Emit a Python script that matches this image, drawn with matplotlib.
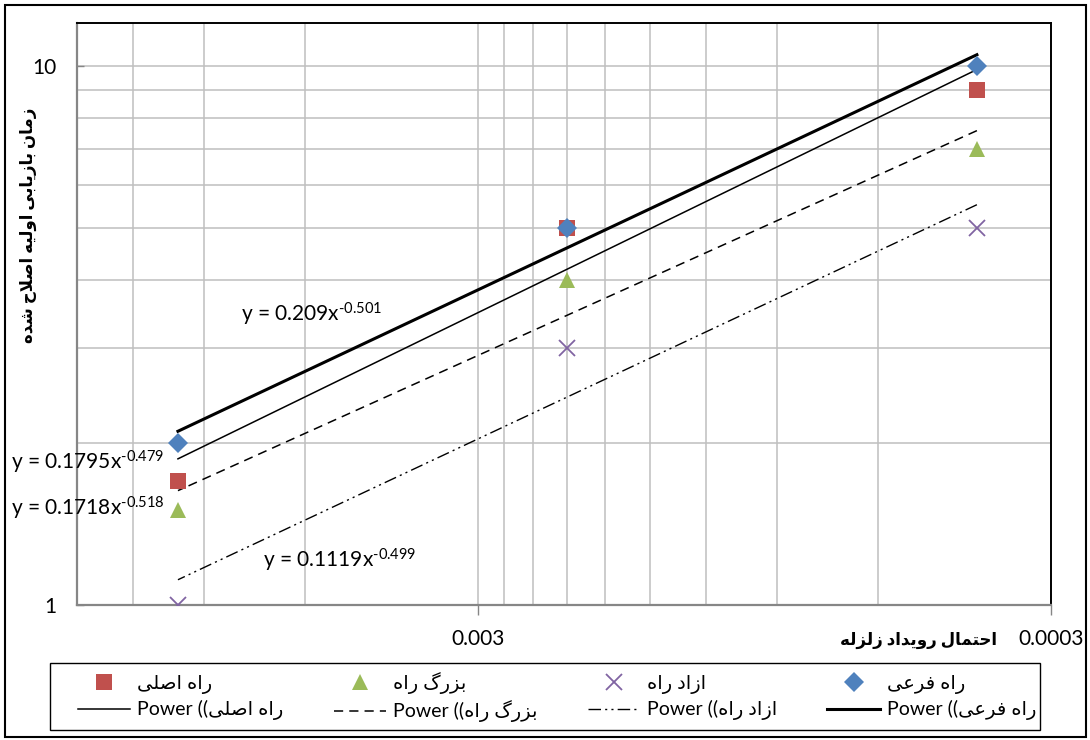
'''
Log-log plot of recovery time vs earthquake probability
'''

# Imports
import numpy as np
import matplotlib
matplotlib.use('Agg')
import matplotlib.pyplot as plt
from matplotlib.patches import Rectangle

plt.rcParams['font.family'] = ['Lato', 'DejaVu Sans']
plt.rcParams['mathtext.fontset'] = 'custom'
plt.rcParams['mathtext.rm'] = 'Lato'
plt.rcParams['mathtext.default'] = 'regular'

# Data
prob = [0.01, 0.0021, 0.000404]
series_names = ['راه اصلی', 'بزرگ راه', 'ازاد راه', 'راه فرعی']
recovery = [
    [1.7, 5.0, 9.0],   # راه اصلی
    [1.5, 4.0, 7.0],   # بزرگ راه
    [1.0, 3.0, 5.0],   # ازاد راه
    [2.0, 5.0, 10.0],  # راه فرعی
]
fit_a = [0.1718, 0.1795, 0.1119, 0.209]
fit_b = [-0.518, -0.479, -0.499, -0.501]
fit_labels = [r'y = 0.1718x$^{\text{-0.518}}$', r'y = 0.1795x$^{\text{-0.479}}$',
              r'y = 0.1119x$^{\text{-0.499}}$', r'y = 0.209x$^{\text{-0.501}}$']
y_title = 'زمان بازیابی اولیه اصلاح شده'
x_title = 'احتمال رویداد زلزله'

# Styles
colors = ['#C0504D', '#9BBB59', '#8064A2', '#4F81BD']
markers = ['s', '^', 'x', 'D']
msizes = [11, 12, 11, 10]
line_styles = ['-', (0, (6, 4)), (0, (9, 3, 1.5, 3, 1.5, 3)), '-']
line_widths = [1.1, 1.1, 1.0, 2.2]
# label positions (figure px): left, baseline
fit_pos = [(11, 515), (11, 470), (263, 568), (241, 322)]

# Arabic shaping (matplotlib has no complex text layout)
FORMS = {
    'ا': (0xFE8D, 0xFE8E, None, None), 'ب': (0xFE8F, 0xFE90, 0xFE91, 0xFE92),
    'ت': (0xFE95, 0xFE96, 0xFE97, 0xFE98), 'ح': (0xFEA1, 0xFEA2, 0xFEA3, 0xFEA4),
    'د': (0xFEA9, 0xFEAA, None, None), 'ر': (0xFEAD, 0xFEAE, None, None),
    'ز': (0xFEAF, 0xFEB0, None, None), 'ش': (0xFEB5, 0xFEB6, 0xFEB7, 0xFEB8),
    'ص': (0xFEB9, 0xFEBA, 0xFEBB, 0xFEBC), 'ع': (0xFEC9, 0xFECA, 0xFECB, 0xFECC),
    'ف': (0xFED1, 0xFED2, 0xFED3, 0xFED4), 'ل': (0xFEDD, 0xFEDE, 0xFEDF, 0xFEE0),
    'م': (0xFEE1, 0xFEE2, 0xFEE3, 0xFEE4), 'ن': (0xFEE5, 0xFEE6, 0xFEE7, 0xFEE8),
    'ه': (0xFEE9, 0xFEEA, 0xFEEB, 0xFEEC), 'و': (0xFEED, 0xFEEE, None, None),
    'ی': (0xFBFC, 0xFBFD, 0xFBFE, 0xFBFF), 'گ': (0xFB92, 0xFB93, 0xFB94, 0xFB95),
    'لا': (0xFEFB, 0xFEFC, None, None),
}


def shape(s):
    '''
    Returns visual-order, joined form of a Persian string.
    '''
    chars = []
    i = 0
    while i < len(s):
        if s[i] == 'ل' and i + 1 < len(s) and s[i + 1] == 'ا':
            chars.append('لا')
            i += 2
        else:
            chars.append(s[i])
            i += 1
    out = []
    for i, c in enumerate(chars):
        if c not in FORMS:
            out.append(c)
            continue
        f = FORMS[c]
        prev = chars[i - 1] if i > 0 else None
        nxt = chars[i + 1] if i + 1 < len(chars) else None
        jp = prev in FORMS and FORMS[prev][2] is not None
        jn = f[2] is not None and nxt in FORMS
        k = 3 if (jp and jn) else 1 if jp else 2 if jn else 0
        out.append(chr(f[k]))
    return ''.join(reversed(out))


# Figure
W, H = 1090, 740
fig = plt.figure(figsize=(W / 100, H / 100), dpi=100)
ax = fig.add_axes([77 / W, 1 - 605 / H, (1051 - 77) / W, (605 - 23) / H])

ax.set_xscale('log')
ax.set_yscale('log')
ax.set_xlim(0.015, 0.0003)
ax.set_ylim(1, 12)

# Grid (Excel style, base multiples)
ax.set_xticks([0.003, 0.0003])
ax.set_xticklabels(['0.003', '0.0003'])
ax.set_xticks([0.0003 * k for k in range(2, 10)] + [0.003 * k for k in range(2, 6)], minor=True)
ax.set_yticks([1, 10])
ax.set_yticklabels(['1', '10'])
ax.set_yticks(list(range(2, 10)), minor=True)
ax.grid(True, which='both', color='#BFBFBF', lw=1.1)
ax.set_axisbelow(True)
ax.tick_params(axis='x', which='major', direction='out', length=7, width=1,
               color='#868686', labelsize=15, pad=10)
ax.tick_params(axis='y', which='major', direction='in', length=5, width=1,
               color='#868686', labelsize=15, pad=15)
ax.tick_params(which='minor', length=0)
ax.xaxis.set_minor_formatter(plt.NullFormatter())
ax.yaxis.set_minor_formatter(plt.NullFormatter())

for side in ['left', 'bottom']:
    ax.spines[side].set_color('#868686')
    ax.spines[side].set_linewidth(1.6)
for side in ['top', 'right']:
    ax.spines[side].set_color('black')
    ax.spines[side].set_linewidth(1.4)

# Trendlines
x_fit = np.geomspace(min(prob), max(prob), 60)
fit_handles = []
for i in range(4):
    ln, = ax.plot(x_fit, fit_a[i] * x_fit ** fit_b[i], color='black',
                  ls=line_styles[i], lw=line_widths[i], zorder=3)
    fit_handles.append(ln)

# Points
pt_handles = []
for i in range(4):
    h, = ax.plot(prob, recovery[i], ls='none', marker=markers[i], ms=msizes[i],
                 color=colors[i], mew=1.3 if markers[i] == 'x' else 0, zorder=4)
    pt_handles.append(h)

# Equations
for i in range(4):
    fig.text(fit_pos[i][0] / W, 1 - fit_pos[i][1] / H, fit_labels[i],
             fontsize=15, ha='left', va='baseline')

# Axis titles
fig.text(28 / W, 1 - 225 / H, shape(y_title), rotation=90, fontsize=12,
         fontweight='bold', ha='center', va='center')
fig.text(918 / W, 1 - 640 / H, shape(x_title), fontsize=12,
         fontweight='bold', ha='center', va='center')

# Legend
handles, labels = [], []
for i in range(4):
    handles += [pt_handles[i], fit_handles[i]]
    labels += [shape(series_names[i]), 'Power ((' + shape(series_names[i])]
leg = fig.legend(handles, labels, ncol=4, loc='center', mode='expand',
                 bbox_to_anchor=(72 / W, 1 - 729 / H, 970 / W, 64 / H),
                 fontsize=14, frameon=False, handlelength=2.7,
                 handletextpad=0.35, borderpad=0.3, labelspacing=0.35,
                 borderaxespad=0)

# Legend frame and outer chart border
fig.patches.append(Rectangle((50 / W, 1 - 730 / H), 990 / W, 67 / H, transform=fig.transFigure,
                             fill=False, ec='black', lw=1.0))
fig.patches.append(Rectangle((5 / W, 3 / H), 1081 / W, 732 / H, transform=fig.transFigure,
                             fill=False, ec='black', lw=1.5))

fig.savefig('out.png', dpi=100)
plt.close(fig)
